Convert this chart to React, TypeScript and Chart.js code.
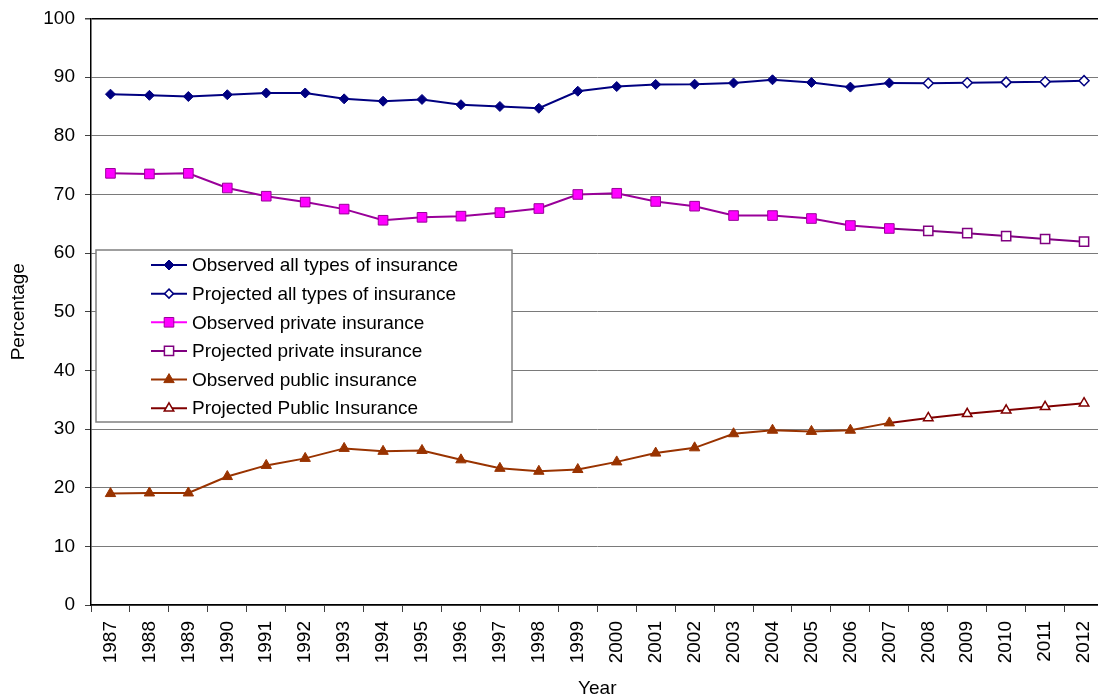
import React, { useEffect, useRef } from 'react';
import { Chart, registerables } from 'chart.js';

Chart.register(...registerables);

const FONT = '"Liberation Sans", Arial, sans-serif';

const years = ['1987', '1988', '1989', '1990', '1991', '1992', '1993', '1994', '1995', '1996', '1997', '1998', '1999', '2000', '2001', '2002', '2003', '2004', '2005', '2006', '2007', '2008', '2009', '2010', '2011', '2012'];

const observedAll = [87.1, 86.9, 86.7, 87.0, 87.3, 87.3, 86.3, 85.9, 86.2, 85.3, 85.0, 84.7, 87.6, 88.4, 88.75, 88.8, 89.0, 89.55, 89.1, 88.3, 89.0, null, null, null, null, null];
const projectedAll = [null, null, null, null, null, null, null, null, null, null, null, null, null, null, null, null, null, null, null, null, 89.0, 88.95, 89.05, 89.15, 89.2, 89.4];

const observedPrivate = [73.6, 73.5, 73.6, 71.1, 69.7, 68.7, 67.5, 65.6, 66.1, 66.3, 66.9, 67.6, 70.0, 70.2, 68.8, 68.0, 66.4, 66.4, 65.9, 64.7, 64.2, null, null, null, null, null];
const projectedPrivate = [null, null, null, null, null, null, null, null, null, null, null, null, null, null, null, null, null, null, null, null, 64.2, 63.8, 63.4, 62.9, 62.4, 61.95];

const observedPublic = [19.0, 19.1, 19.1, 21.9, 23.8, 25.0, 26.7, 26.2, 26.35, 24.75, 23.3, 22.8, 23.1, 24.4, 25.9, 26.8, 29.2, 29.8, 29.6, 29.8, 31.05, null, null, null, null, null];
const projectedPublic = [null, null, null, null, null, null, null, null, null, null, null, null, null, null, null, null, null, null, null, null, 31.05, 31.9, 32.6, 33.2, 33.8, 34.4];

const yTickValues = [0, 10, 20, 30, 40, 50, 60, 70, 80, 90, 100];

const firstIndex = (arr: (number | null)[]) => arr.findIndex((v) => v !== null);

function drawMarker(ctx: CanvasRenderingContext2D, style: string, x: number, y: number, r: number, fill: string, stroke: string, bw: number) {
  ctx.beginPath();
  if (style === 'rectRot') {
    ctx.moveTo(x, y - r);
    ctx.lineTo(x + r, y);
    ctx.lineTo(x, y + r);
    ctx.lineTo(x - r, y);
  } else if (style === 'rect') {
    const s = r * Math.SQRT1_2;
    ctx.rect(x - s, y - s, 2 * s, 2 * s);
  } else {
    ctx.moveTo(x, y - r);
    ctx.lineTo(x + r * Math.sin(Math.PI / 3), y + r / 2);
    ctx.lineTo(x - r * Math.sin(Math.PI / 3), y + r / 2);
  }
  ctx.closePath();
  ctx.fillStyle = fill;
  ctx.fill();
  ctx.lineWidth = bw;
  ctx.strokeStyle = stroke;
  ctx.stroke();
}

const boxLegend = {
  id: 'boxLegend',
  afterDraw(chart: any) {
    const ctx: CanvasRenderingContext2D = chart.ctx;
    const a = chart.chartArea;
    const x0 = a.left + 5;
    const y0 = a.top + 231.5;
    const w = 416;
    const h = 172;
    ctx.save();
    ctx.fillStyle = '#ffffff';
    ctx.fillRect(x0, y0, w, h);
    ctx.strokeStyle = '#808080';
    ctx.lineWidth = 1.5;
    ctx.strokeRect(x0, y0, w, h);
    chart.data.datasets.forEach((ds: any, i: number) => {
      const cy = y0 + 15 + i * 28.65;
      ctx.beginPath();
      ctx.moveTo(x0 + 55, cy);
      ctx.lineTo(x0 + 91, cy);
      ctx.strokeStyle = ds.legendLine || ds.borderColor;
      ctx.lineWidth = 2;
      ctx.stroke();
      drawMarker(ctx, ds.pointStyle, x0 + 73, cy, ds.legendRadius, ds.pointBackgroundColor, ds.pointBorderColor, ds.pointBorderWidth);
      ctx.fillStyle = '#000';
      ctx.font = `19px ${FONT}`;
      ctx.textAlign = 'left';
      ctx.textBaseline = 'middle';
      ctx.fillText(ds.label, x0 + 96, cy + 1);
    });
    ctx.restore();
  },
};

export default function App() {
  const ref = useRef<HTMLCanvasElement>(null);

  useEffect(() => {
    const canvas = ref.current!;
    const hideAt = (arr: (number | null)[], r: number) => (c: any) => (c.dataIndex === firstIndex(arr) ? 0 : r);
    const chart = new Chart(canvas, {
      type: 'line',
      data: {
        labels: years,
        datasets: [
          {
            label: 'Observed all types of insurance',
            data: observedAll,
            borderColor: '#000080',
            borderWidth: 2,
            pointStyle: 'rectRot',
            pointRadius: 5,
            legendRadius: 5,
            pointBackgroundColor: '#000080',
            pointBorderColor: '#000080',
            pointBorderWidth: 1,
            order: 0,
          } as any,
          {
            label: 'Projected all types of insurance',
            data: projectedAll,
            borderColor: '#000080',
            borderWidth: 2,
            pointStyle: 'rectRot',
            pointRadius: hideAt(projectedAll, 5),
            legendRadius: 4.5,
            pointBackgroundColor: '#ffffff',
            pointBorderColor: '#000080',
            pointBorderWidth: 1.5,
            order: 1,
          } as any,
          {
            label: 'Observed private insurance',
            data: observedPrivate,
            borderColor: '#990099',
            legendLine: '#ff00ff',
            borderWidth: 2,
            pointStyle: 'rect',
            pointRadius: 6.8,
            legendRadius: 6.8,
            pointBackgroundColor: '#ff00ff',
            pointBorderColor: '#990099',
            pointBorderWidth: 1,
            order: 0,
          } as any,
          {
            label: 'Projected private insurance',
            data: projectedPrivate,
            borderColor: '#800080',
            borderWidth: 2,
            pointStyle: 'rect',
            pointRadius: hideAt(projectedPrivate, 6.5),
            legendRadius: 6.5,
            pointBackgroundColor: '#ffffff',
            pointBorderColor: '#800080',
            pointBorderWidth: 1.5,
            order: 1,
          } as any,
          {
            label: 'Observed public insurance',
            data: observedPublic,
            borderColor: '#993300',
            borderWidth: 2,
            pointStyle: 'triangle',
            pointRadius: 6,
            legendRadius: 6,
            pointBackgroundColor: '#993300',
            pointBorderColor: '#993300',
            pointBorderWidth: 1,
            order: 0,
          } as any,
          {
            label: 'Projected Public Insurance',
            data: projectedPublic,
            borderColor: '#800000',
            borderWidth: 2,
            pointStyle: 'triangle',
            pointRadius: hideAt(projectedPublic, 5.5),
            legendRadius: 5.5,
            pointBackgroundColor: '#ffffff',
            pointBorderColor: '#800000',
            pointBorderWidth: 1.5,
            order: 1,
          } as any,
        ],
      },
      options: {
        responsive: false,
        devicePixelRatio: 1,
        animation: false,
        layout: { padding: { left: 0, right: 0, top: 18.5, bottom: 0 } },
        plugins: {
          legend: { display: false },
          tooltip: { enabled: false },
        },
        scales: {
          x: {
            type: 'category',
            offset: true,
            grid: {
              offset: true,
              drawOnChartArea: false,
              drawTicks: true,
              tickLength: 7,
              color: '#404040',
              tickColor: '#404040',
            },
            border: { color: '#000', width: 1.5 },
            ticks: {
              autoSkip: false,
              maxRotation: 90,
              minRotation: 90,
              padding: 9,
              color: '#000',
              font: { family: FONT, size: 19 },
            },
            title: {
              display: true,
              text: 'Year',
              color: '#000',
              font: { family: FONT, size: 19 },
              padding: { top: 0, bottom: 0 },
            },
            afterFit: (s: any) => {
              s.height = 95;
            },
          },
          y: {
            min: 0,
            max: 100,
            afterBuildTicks: (s: any) => {
              s.ticks = yTickValues.map((v) => ({ value: v }));
            },
            grid: {
              color: (c: any) => (c.tick && c.tick.value === 100 ? '#000000' : '#7a7a7a'),
              lineWidth: (c: any) => (c.tick && c.tick.value === 100 ? 1.5 : 1),
              tickLength: 6,
              tickColor: '#404040',
            },
            border: { color: '#000', width: 1.5 },
            ticks: {
              padding: 10,
              color: '#000',
              font: { family: FONT, size: 19 },
            },
            title: {
              display: true,
              text: 'Percentage',
              color: '#000',
              font: { family: FONT, size: 19 },
              padding: { top: 7.5, bottom: 0 },
            },
            afterFit: (s: any) => {
              s.width = 91;
              s.paddingTop = 0;
              s.paddingBottom = 0;
            },
          },
        },
      } as any,
      plugins: [boxLegend],
    });
    return () => chart.destroy();
  }, []);

  return (
    <div style={{ position: 'fixed', left: 0, top: 0, width: 1098, height: 700, overflow: 'hidden', background: '#fff' }}>
      <canvas ref={ref} width={1116} height={700} style={{ display: 'block', width: 1116, height: 700 }} />
    </div>
  );
}
